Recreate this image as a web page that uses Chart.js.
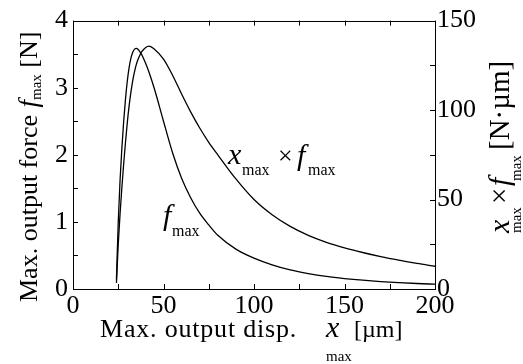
<!DOCTYPE html>
<html><head><meta charset="utf-8">
<script src="https://cdn.jsdelivr.net/npm/chart.js@4.4.1/dist/chart.umd.min.js"></script>
<style>html,body{margin:0;padding:0;background:#fff;overflow:hidden}#wrap{width:523px;height:364px}</style>
</head><body><div id="wrap"><canvas id="c" width="523" height="364"></canvas></div>
<script>
// Max. output displacement x_max [µm]
const dispX = [24,25,26,27,28,29,30,31,32,33,34,35,36,37,38,40,42,45,50,55,60,65,70,75,80,90,100,110,120,130,140,150,160,170,180,190,200];
// Max. output force f_max [N] (left axis)
const forceF = [0.14,1.0,1.62,2.1,2.5,2.83,3.1,3.3,3.44,3.53,3.575,3.585,3.57,3.535,3.49,3.37,3.23,2.98,2.5,2.03,1.65,1.36,1.13,0.955,0.80,0.595,0.46,0.36,0.284,0.229,0.187,0.156,0.131,0.111,0.095,0.082,0.0715];
// x_max × f_max [N·µm] (right axis)
const productXF = [3.4,25,42,56.7,70,82,93,102.3,110,116.5,121.5,125.5,128.5,130.8,132.6,134.8,135.7,134,128.5,119.5,109,99,90,82,75,61.5,50,41.5,35,30,26.1,23,20.4,18.1,16.1,14.3,12.7];

const xTickLabels = [0,50,100,150,200];
const leftTickLabels = [0,1,2,3,4];
const rightTickLabels = [0,50,100,150];

const FAM = '"Liberation Serif", "Times New Roman", serif';
const REG = '26px ' + FAM;
const REG_S = '24px ' + FAM;
const REG_R = '29px ' + FAM;
const IT = 'italic 30px ' + FAM;
const IT_L = 'italic 27px ' + FAM;
const SUB = '15px ' + FAM;
const SUB_P = '16px ' + FAM;

function put(ctx, s, x, y, font) { ctx.font = font; ctx.fillText(s, x, y); return ctx.measureText(s).width; }

const framePlugin = {
  id: 'frame',
  afterDraw(chart) {
    const ctx = chart.ctx;
    const {left, right, top, bottom} = chart.chartArea;
    const {x, y, y2} = chart.scales;
    ctx.save();
    ctx.strokeStyle = '#000';
    ctx.lineWidth = 1;
    ctx.strokeRect(Math.round(left) + 0.5, Math.round(top) + 0.5, Math.round(right - left), Math.round(bottom - top));
    const T = 5;
    ctx.beginPath();
    x.ticks.forEach(t => {
      const p = Math.round(x.getPixelForValue(t.value)) + 0.5;
      ctx.moveTo(p, bottom); ctx.lineTo(p, bottom - T);
      ctx.moveTo(p, top); ctx.lineTo(p, top + T);
    });
    y.ticks.forEach(t => {
      const p = Math.round(y.getPixelForValue(t.value)) + 0.5;
      ctx.moveTo(left, p); ctx.lineTo(left + T, p);
    });
    y2.ticks.forEach(t => {
      const p = Math.round(y2.getPixelForValue(t.value)) + 0.5;
      ctx.moveTo(right, p); ctx.lineTo(right - T, p);
    });
    ctx.stroke();

    ctx.fillStyle = '#000';
    ctx.textBaseline = 'alphabetic';
    ctx.textAlign = 'left';

    // bottom title
    const base = 337;
    ctx.save();
    ctx.letterSpacing = '0.8px';
    put(ctx, 'Max. output disp.', 100, base, REG);
    ctx.restore();
    put(ctx, 'x', 326, base, IT);
    put(ctx, 'max', 326, base + 24, SUB);
    put(ctx, '[µm]', 354, base, REG_S);

    // left title
    ctx.save();
    ctx.translate(37, 302);
    ctx.rotate(-Math.PI / 2);
    let u = 0;
    u += put(ctx, 'Max. output force ', u, 0, REG);
    const wf = put(ctx, 'f', u + 1, 0, IT_L);
    u += wf + 1;
    u += put(ctx, 'max', u, 4, SUB);
    put(ctx, ' [N]', u, 0, REG);
    ctx.restore();

    // right title
    ctx.save();
    ctx.translate(509, 233);
    ctx.rotate(-Math.PI / 2);
    put(ctx, 'x', 0, 0, IT);
    put(ctx, 'max', 0, 12, SUB);
    put(ctx, '×', 29, 0, REG_R);
    put(ctx, 'f', 47, 0, IT);
    put(ctx, 'max', 52, 12, SUB);
    put(ctx, '[N·µm]', 83, 0, REG_R);
    ctx.restore();

    // in-plot labels, anchored through the scales
    let px = x.getPixelForValue(85.6), py = y.getPixelForValue(1.86);
    put(ctx, 'x', px, py, IT);
    put(ctx, 'max', px + 14, py + 11, SUB_P);
    put(ctx, '×', px + 50, py, REG);
    put(ctx, 'f', px + 69, py + 1, IT);
    put(ctx, 'max', px + 80, py + 11, SUB_P);

    px = x.getPixelForValue(48.1); py = y.getPixelForValue(0.95);
    put(ctx, 'f', px + 3, py, IT);
    put(ctx, 'max', px + 12, py + 11, SUB_P);
    ctx.restore();
  }
};

const tickFont = {family: '"Liberation Serif", "Times New Roman", serif', size: 26};
new Chart(document.getElementById('c'), {
  type: 'line',
  data: {
    datasets: [
      {label: 'f_max', data: dispX.map((v, i) => ({x: v, y: forceF[i]})), yAxisID: 'y',
       borderColor: '#000', borderWidth: 1.3, pointRadius: 0, fill: false, cubicInterpolationMode: 'monotone'},
      {label: 'x_max × f_max', data: dispX.map((v, i) => ({x: v, y: productXF[i]})), yAxisID: 'y2',
       borderColor: '#000', borderWidth: 1.3, pointRadius: 0, fill: false, cubicInterpolationMode: 'monotone'}
    ]
  },
  options: {
    responsive: false, animation: false, devicePixelRatio: 1,
    layout: {padding: {top: 16, left: 0, right: 0, bottom: 0}},
    plugins: {legend: {display: false}, tooltip: {enabled: false}},
    scales: {
      x: {type: 'linear', position: 'bottom', min: 0, max: 200,
          grid: {display: false, drawTicks: false}, border: {display: false},
          ticks: {stepSize: 25, autoSkip: false, maxRotation: 0, padding: 2, color: '#000', font: tickFont,
                  callback: v => xTickLabels.includes(v) ? String(v) : ''},
          afterFit(s) { s.height = 75; }},
      y: {type: 'linear', position: 'left', min: 0, max: 4,
          grid: {display: false, drawTicks: false}, border: {display: false},
          ticks: {stepSize: 0.5, autoSkip: false, padding: 5, color: '#000', font: tickFont,
                  callback: v => leftTickLabels.includes(v) ? String(v) : ''},
          afterFit(s) { s.width = 73; }},
      y2: {type: 'linear', position: 'right', min: 0, max: 150,
          grid: {display: false, drawTicks: false}, border: {display: false},
          ticks: {stepSize: 25, autoSkip: false, padding: 2, color: '#000', font: tickFont,
                  callback: v => rightTickLabels.includes(v) ? String(v) : ''},
          afterFit(s) { s.width = 88; }}
    }
  },
  plugins: [framePlugin]
});
</script></body></html>
